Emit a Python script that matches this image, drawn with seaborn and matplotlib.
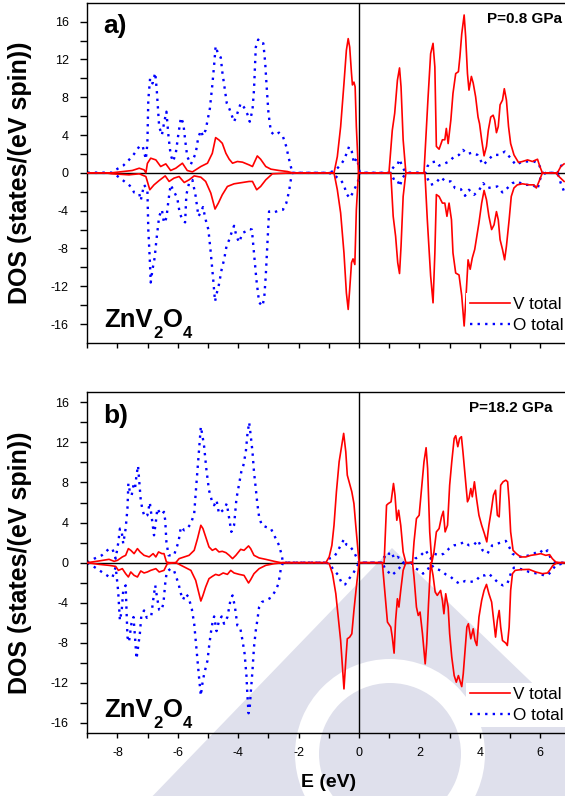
import matplotlib
matplotlib.use("Agg")
import matplotlib.pyplot as plt
from matplotlib.lines import Line2D
from matplotlib.patches import Polygon, Wedge
import pandas as pd
import seaborn as sns

# ---------------------------------------------------------------------------
# Spin-resolved DOS of ZnV2O4, (energy eV, states/(eV spin)) pairs
# ---------------------------------------------------------------------------

# (a) P = 0.8 GPa
a_v_up = [(-9.0, 0), (-8.2, 0), (-7.51, 0.25), (-7.28, 0.49), (-7.12, 0.32), (-7.06, 0.0), (-7.01, 1.0),
          (-6.90, 1.55), (-6.73, 1.37), (-6.57, 0.67), (-6.40, 0.95), (-6.24, 0.25), (-6.07, 0.49), (-5.85, 1.02),
          (-5.69, 0.25), (-5.52, 0.1), (-5.41, 0.32), (-5.24, 0.67), (-5.02, 1.02), (-4.86, 2.07), (-4.75, 3.73),
          (-4.64, 3.48), (-4.53, 3.13), (-4.41, 2.07), (-4.30, 1.44), (-4.19, 1.02), (-4.03, 1.2), (-3.86, 1.13),
          (-3.64, 0.84), (-3.53, 0.67), (-3.37, 1.79), (-3.26, 1.44), (-3.09, 0.67), (-2.92, 0.39), (-2.65, 0.25),
          (-2.37, 0.14), (-2.21, 0), (-1.0, 0), (-0.83, 0), (-0.72, 1.72), (-0.61, 4.89), (-0.50, 9.46),
          (-0.42, 12.97), (-0.36, 14.2), (-0.31, 13.3), (-0.25, 10.5), (-0.22, 9.3), (-0.17, 9.6), (-0.13, 9.1),
          (-0.09, 4.9), (-0.02, 0), (0.99, 0), (1.10, 4.5), (1.18, 6.3), (1.27, 9.8), (1.34, 11.1), (1.39, 9.1),
          (1.46, 3.5), (1.55, 0), (2.15, 0), (2.28, 7.7), (2.37, 12.6), (2.45, 13.7), (2.51, 11.2), (2.56, 2.8),
          (2.65, 2.5), (2.76, 3.5), (2.84, 3.5), (2.89, 4.7), (2.95, 3.1), (3.04, 5.6), (3.11, 8.4), (3.20, 10.5),
          (3.29, 10.7), (3.34, 12.3), (3.40, 14.7), (3.48, 16.7), (3.53, 14.4), (3.59, 10.5), (3.64, 8.75),
          (3.72, 10.2), (3.78, 9.5), (3.86, 8.05), (3.94, 5.9), (3.99, 5.2), (4.06, 3.5), (4.14, 1.8), (4.22, 2.8),
          (4.28, 4.5), (4.36, 5.9), (4.44, 6.1), (4.49, 5.6), (4.55, 4.25), (4.61, 4.9), (4.67, 7.2), (4.75, 7.7),
          (4.81, 8.9), (4.88, 7.7), (4.95, 4.9), (5.02, 3.1), (5.13, 1.9), (5.28, 1.1), (5.41, 1.2), (5.58, 1.37),
          (5.74, 1.2), (5.91, 1.44), (5.98, 0.74), (6.07, 0), (6.57, 0), (6.68, 0.67), (6.79, 0.95)]

a_v_down = [(-9.0, 0), (-8.4, 0), (-8.17, -0.1), (-7.62, -0.21), (-7.28, -0.1), (-7.06, -0.39), (-6.93, -1.79),
            (-6.79, -1.27), (-6.62, -0.81), (-6.42, -0.32), (-6.29, -0.91), (-6.13, -0.56), (-5.96, -0.39),
            (-5.79, -1.02), (-5.63, -0.74), (-5.46, -0.32), (-5.24, -0.46), (-5.08, -0.91), (-4.91, -2.14),
            (-4.77, -3.83), (-4.66, -3.2), (-4.53, -2.32), (-4.36, -1.44), (-4.14, -1.16), (-3.86, -1.02),
            (-3.64, -0.91), (-3.53, -0.91), (-3.39, -1.79), (-3.26, -1.44), (-3.09, -0.74), (-2.87, -0.1),
            (-2.21, 0), (-0.99, 0), (-0.83, 0), (-0.72, -1.79), (-0.61, -4.25), (-0.50, -8.47), (-0.42, -12.7),
            (-0.36, -14.45), (-0.31, -12.3), (-0.25, -9.5), (-0.20, -9.1), (-0.14, -9.7), (-0.09, -3.9),
            (-0.02, 0), (1.05, 0), (1.13, -4.6), (1.21, -6.7), (1.28, -9.5), (1.34, -10.65), (1.39, -7.77),
            (1.46, -2.5), (1.55, 0), (2.18, 0), (2.26, -4.96), (2.37, -10.9), (2.45, -13.75), (2.51, -8.5),
            (2.56, -2.3), (2.65, -2.5), (2.76, -3.2), (2.84, -3.2), (2.91, -4.6), (2.98, -3.2), (3.06, -4.96),
            (3.11, -8.47), (3.20, -10.6), (3.31, -10.8), (3.40, -13.0), (3.48, -16.2), (3.53, -13.75),
            (3.61, -9.2), (3.68, -10.2), (3.75, -9.0), (3.83, -8.1), (3.90, -6.7), (3.97, -5.3), (4.06, -3.2),
            (4.14, -1.86), (4.22, -2.85), (4.30, -4.6), (4.39, -6.0), (4.47, -5.5), (4.55, -4.1), (4.61, -4.96),
            (4.67, -7.07), (4.75, -8.1), (4.82, -9.2), (4.88, -7.77), (4.97, -4.96), (5.04, -2.5), (5.13, -1.6),
            (5.24, -1.27), (5.41, -1.16), (5.63, -1.27), (5.79, -1.27), (5.87, -1.6), (5.96, -0.91), (6.07, 0),
            (6.51, 0), (6.62, -0.39), (6.79, -0.91)]

a_o_up = [(-9.0, 0), (-8.19, 0), (-8.06, 0.32), (-7.81, 0.77), (-7.62, 1.37), (-7.45, 2.0), (-7.28, 2.78),
          (-7.17, 2.88), (-7.06, 1.44), (-7.01, 3.13), (-6.98, 7.7), (-6.92, 10.0), (-6.84, 9.46), (-6.75, 10.58),
          (-6.70, 8.76), (-6.62, 4.89), (-6.53, 4.0), (-6.46, 5.24), (-6.38, 6.47), (-6.31, 3.83), (-6.24, 1.9),
          (-6.16, 1.2), (-6.07, 2.07), (-5.98, 4.18), (-5.90, 5.84), (-5.82, 5.24), (-5.76, 3.48), (-5.69, 1.72),
          (-5.57, 0.91), (-5.41, 2.07), (-5.33, 3.66), (-5.24, 4.47), (-5.17, 3.9), (-5.08, 4.54), (-4.94, 6.82),
          (-4.86, 9.28), (-4.80, 11.4), (-4.75, 13.4), (-4.67, 12.6), (-4.58, 12.2), (-4.53, 10.7), (-4.45, 8.93),
          (-4.38, 7.35), (-4.30, 6.82), (-4.22, 6.12), (-4.14, 5.41), (-4.05, 6.12), (-3.92, 7.35), (-3.81, 6.93),
          (-3.70, 6.22), (-3.62, 5.41), (-3.53, 6.65), (-3.48, 8.76), (-3.42, 13.3), (-3.34, 14.1), (-3.26, 13.7),
          (-3.17, 13.7), (-3.11, 11.7), (-3.06, 9.1), (-3.00, 6.3), (-2.92, 4.36), (-2.81, 4.0), (-2.65, 4.25),
          (-2.52, 3.83), (-2.41, 2.78), (-2.34, 1.72), (-2.26, 0.67), (-2.21, 0), (-0.99, 0), (-0.77, 0.32),
          (-0.61, 0.84), (-0.50, 1.37), (-0.42, 2.0), (-0.33, 2.78), (-0.24, 2.25), (-0.17, 1.02), (-0.08, 1.55),
          (-0.02, 0.84), (0.02, 0), (0.99, 0), (1.16, 0.67), (1.27, 0.84), (1.34, 1.44), (1.41, 0.84), (1.49, 0.32),
          (1.57, 0), (2.19, 0), (2.26, 0.67), (2.37, 1.09), (2.54, 1.2), (2.65, 0.77), (2.81, 0.95), (2.98, 1.2),
          (3.15, 1.72), (3.31, 1.9), (3.44, 2.43), (3.59, 2.0), (3.75, 2.14), (3.92, 1.9), (4.11, 0.84),
          (4.28, 1.37), (4.44, 1.9), (4.64, 1.9), (4.83, 2.25), (5.02, 1.55), (5.19, 0.84), (5.41, 1.2),
          (5.63, 1.2), (5.79, 1.2), (5.94, 1.02), (6.07, 0), (6.57, 0), (6.68, 0.67), (6.79, 1.2)]

a_o_down = [(-9.0, 0), (-8.19, 0), (-8.06, -0.21), (-7.84, -0.74), (-7.56, -1.44), (-7.45, -2.07), (-7.28, -2.2),
            (-7.23, -2.92), (-7.12, -1.27), (-7.01, -1.79), (-6.98, -6.0), (-6.93, -9.18), (-6.90, -11.6),
            (-6.84, -10.2), (-6.77, -9.0), (-6.71, -7.07), (-6.62, -4.6), (-6.53, -3.9), (-6.46, -5.3),
            (-6.38, -4.78), (-6.31, -2.85), (-6.24, -1.27), (-6.13, -1.97), (-6.02, -2.67), (-5.94, -4.25),
            (-5.85, -4.96), (-5.76, -5.24), (-5.72, -2.32), (-5.63, -1.09), (-5.52, -0.74), (-5.41, -2.5),
            (-5.32, -4.6), (-5.24, -4.18), (-5.17, -3.62), (-5.08, -4.96), (-4.99, -6.0), (-4.91, -8.47),
            (-4.83, -11.3), (-4.77, -13.6), (-4.71, -12.7), (-4.64, -11.8), (-4.55, -10.2), (-4.47, -9.18),
            (-4.39, -7.77), (-4.30, -7.07), (-4.22, -6.3), (-4.14, -5.6), (-4.06, -6.72), (-3.97, -7.35),
            (-3.86, -6.36), (-3.75, -6.19), (-3.64, -5.94), (-3.55, -6.0), (-3.48, -8.47), (-3.40, -11.3),
            (-3.31, -13.7), (-3.20, -14.1), (-3.14, -13.2), (-3.09, -10.9), (-3.04, -7.77), (-2.98, -4.08),
            (-2.81, -4.18), (-2.65, -3.97), (-2.52, -3.9), (-2.41, -3.2), (-2.32, -1.97), (-2.26, -0.74),
            (-2.21, 0), (-0.99, 0), (-0.77, -0.39), (-0.61, -0.74), (-0.50, -1.27), (-0.42, -2.2), (-0.31, -2.67),
            (-0.20, -2.07), (-0.11, -1.44), (-0.02, -0.74), (0.02, 0), (1.05, 0), (1.16, -0.74), (1.27, -0.74),
            (1.35, -1.44), (1.43, -0.56), (1.57, 0), (2.19, 0), (2.26, -0.56), (2.37, -1.27), (2.54, -1.09),
            (2.70, -0.46), (2.87, -0.91), (3.04, -0.91), (3.18, -1.62), (3.37, -1.72), (3.51, -2.43),
            (3.64, -1.79), (3.81, -2.32), (3.97, -1.86), (4.11, -1.09), (4.25, -1.62), (4.41, -1.51),
            (4.58, -1.44), (4.75, -2.07), (4.91, -1.62), (5.08, -1.09), (5.24, -0.91), (5.46, -1.27),
            (5.63, -1.27), (5.76, -1.27), (5.91, -1.72), (6.02, -0.39), (6.18, 0), (6.57, 0), (6.68, -1.09),
            (6.79, -1.97)]

# (b) P = 18.2 GPa
b_v_up = [(-9.0, 0), (-8.61, 0.17), (-8.28, 0.33), (-8.11, 0.13), (-8.00, 0.23), (-7.84, 0.57), (-7.73, 0.73),
          (-7.64, 1.4), (-7.56, 1.23), (-7.45, 0.9), (-7.34, 1.4), (-7.25, 1.07), (-7.12, 0.73), (-6.95, 0.57),
          (-6.82, 0.9), (-6.73, 0.57), (-6.64, 1.07), (-6.53, 0.9), (-6.46, 0.9), (-6.38, 0.07), (-6.29, 0),
          (-6.07, 0), (-5.96, 0.4), (-5.79, 0.57), (-5.63, 0.73), (-5.46, 1.23), (-5.35, 2.4), (-5.24, 3.73),
          (-5.17, 3.4), (-5.08, 2.57), (-4.97, 1.57), (-4.86, 1.23), (-4.75, 1.4), (-4.64, 1.07), (-4.53, 1.13),
          (-4.41, 1.0), (-4.30, 0.73), (-4.19, 0.4), (-4.08, 0.73), (-3.92, 1.33), (-3.81, 1.23), (-3.66, 1.67),
          (-3.59, 1.4), (-3.48, 0.73), (-3.31, 0.47), (-3.09, 0.33), (-2.81, 0.13), (-2.59, 0), (-1.1, 0),
          (-0.99, 0.57), (-0.90, 1.73), (-0.83, 3.73), (-0.75, 7.07), (-0.66, 10.07), (-0.57, 11.73),
          (-0.51, 12.9), (-0.44, 11.07), (-0.39, 8.73), (-0.33, 8.07), (-0.24, 7.07), (-0.17, 5.9), (-0.11, 3.73),
          (-0.05, 1.73), (0.0, 0), (0.83, 0), (0.91, 5.73), (0.97, 5.9), (1.06, 6.07), (1.14, 7.9), (1.19, 6.73),
          (1.25, 4.23), (1.31, 5.23), (1.38, 3.73), (1.46, 1.07), (1.55, 0), (1.77, 0), (1.82, 2.07), (1.90, 4.4),
          (1.99, 4.73), (2.08, 7.73), (2.15, 10.07), (2.22, 11.47), (2.27, 9.4), (2.34, 3.07), (2.41, 0),
          (2.48, 1.07), (2.56, 3.07), (2.65, 3.4), (2.73, 4.57), (2.79, 5.13), (2.85, 3.07), (2.93, 3.73),
          (3.00, 7.73), (3.07, 10.07), (3.15, 12.4), (3.20, 12.67), (3.27, 11.57), (3.33, 12.4), (3.39, 12.57),
          (3.44, 11.07), (3.53, 8.07), (3.59, 6.07), (3.64, 6.4), (3.70, 7.4), (3.75, 6.57), (3.82, 8.07),
          (3.89, 6.4), (3.97, 4.73), (4.06, 3.73), (4.15, 2.9), (4.23, 2.07), (4.30, 3.73), (4.38, 5.23),
          (4.45, 6.73), (4.52, 7.23), (4.58, 4.73), (4.64, 4.57), (4.69, 7.73), (4.77, 8.07), (4.86, 8.23),
          (4.92, 8.07), (4.97, 6.07), (5.02, 3.07), (5.10, 1.23), (5.21, 0.9), (5.35, 0.57), (5.52, 0.57),
          (5.69, 0.73), (5.85, 0.8), (6.02, 0.9), (6.18, 0.73), (6.31, 0.8), (6.40, 0.4), (6.51, 0.07),
          (6.62, 0), (6.8, 0)]

b_v_down = [(-9.0, 0), (-8.61, -0.17), (-8.28, -0.27), (-8.06, -0.37), (-7.97, -0.77), (-7.84, -0.6),
            (-7.73, -1.1), (-7.64, -1.43), (-7.56, -0.93), (-7.45, -1.27), (-7.34, -1.43), (-7.23, -0.83),
            (-7.12, -1.03), (-7.01, -0.93), (-6.90, -0.77), (-6.73, -0.6), (-6.62, -0.93), (-6.46, -0.77),
            (-6.35, -0.1), (-6.07, 0), (-5.96, -0.17), (-5.79, -0.43), (-5.57, -0.77), (-5.41, -1.77),
            (-5.30, -3.1), (-5.24, -3.83), (-5.17, -3.27), (-5.08, -2.43), (-4.97, -1.6), (-4.86, -1.37),
            (-4.75, -1.17), (-4.64, -1.27), (-4.50, -1.03), (-4.36, -1.17), (-4.25, -0.77), (-4.14, -1.03),
            (-3.97, -1.17), (-3.81, -1.27), (-3.66, -2.03), (-3.59, -1.7), (-3.48, -1.1), (-3.31, -0.6),
            (-3.09, -0.27), (-2.81, -0.1), (-2.52, 0), (-1.1, 0), (-0.99, -0.1), (-0.88, -1.1), (-0.77, -3.1),
            (-0.68, -5.77), (-0.61, -7.77), (-0.55, -10.43), (-0.50, -12.6), (-0.44, -9.77), (-0.39, -7.6),
            (-0.31, -7.43), (-0.24, -7.1), (-0.17, -4.77), (-0.09, -2.43), (0.0, 0), (0.77, 0), (0.86, -3.1),
            (0.94, -5.93), (1.05, -6.43), (1.10, -7.43), (1.16, -9.03), (1.21, -5.77), (1.27, -3.6), (1.32, -4.43),
            (1.38, -2.77), (1.46, -0.77), (1.55, 0), (1.77, 0), (1.82, -1.43), (1.90, -4.43), (1.96, -5.27),
            (2.02, -4.93), (2.10, -7.1), (2.19, -10.1), (2.24, -8.1), (2.30, -4.1), (2.37, 0), (2.45, -1.27),
            (2.52, -2.93), (2.59, -3.27), (2.70, -2.77), (2.76, -3.77), (2.81, -5.1), (2.87, -3.1), (2.95, -4.43),
            (3.00, -7.1), (3.07, -9.43), (3.15, -11.27), (3.22, -11.93), (3.29, -11.27), (3.34, -11.77),
            (3.40, -12.37), (3.45, -11.1), (3.51, -8.77), (3.57, -6.43), (3.62, -6.1), (3.70, -7.6), (3.78, -6.6),
            (3.84, -7.77), (3.90, -8.27), (3.97, -5.43), (4.06, -3.77), (4.14, -2.77), (4.22, -2.17), (4.30, -3.1),
            (4.39, -3.93), (4.47, -6.1), (4.52, -7.43), (4.58, -5.77), (4.64, -4.77), (4.69, -6.43), (4.75, -7.77),
            (4.86, -8.03), (4.91, -8.27), (4.97, -6.43), (5.02, -2.77), (5.08, -1.1), (5.17, -0.77), (5.35, -0.7),
            (5.63, -0.67), (5.85, -0.93), (6.07, -1.1), (6.24, -1.03), (6.31, -0.77), (6.42, -0.27), (6.57, 0),
            (6.8, 0)]

b_o_up = [(-9.0, 0), (-8.77, 0.4), (-8.52, 0.73), (-8.30, 1.33), (-8.17, 1.4), (-8.06, 0.4), (-7.97, 2.07),
          (-7.92, 3.4), (-7.86, 3.07), (-7.81, 1.9), (-7.73, 3.4), (-7.67, 5.4), (-7.64, 7.9), (-7.59, 7.07),
          (-7.53, 6.73), (-7.47, 7.73), (-7.42, 7.4), (-7.37, 8.73), (-7.32, 9.67), (-7.27, 7.73), (-7.23, 6.23),
          (-7.17, 5.23), (-7.10, 4.57), (-7.01, 4.73), (-6.93, 6.0), (-6.87, 4.57), (-6.79, 2.73), (-6.73, 4.07),
          (-6.68, 5.4), (-6.62, 5.07), (-6.57, 4.8), (-6.51, 4.9), (-6.46, 5.07), (-6.42, 4.23), (-6.38, 2.07),
          (-6.31, 0.73), (-6.13, 0.73), (-5.98, 2.07), (-5.90, 3.57), (-5.79, 3.23), (-5.69, 3.4), (-5.57, 3.9),
          (-5.46, 4.9), (-5.39, 7.73), (-5.32, 10.4), (-5.24, 13.57), (-5.19, 12.73), (-5.13, 11.57), (-5.06, 9.4),
          (-4.97, 7.23), (-4.88, 6.23), (-4.80, 5.73), (-4.72, 6.23), (-4.64, 4.9), (-4.55, 5.13), (-4.47, 5.33),
          (-4.38, 5.9), (-4.30, 4.4), (-4.23, 3.07), (-4.14, 3.73), (-4.06, 6.4), (-3.97, 7.9), (-3.90, 9.07),
          (-3.83, 9.73), (-3.75, 11.07), (-3.70, 12.73), (-3.64, 14.0), (-3.59, 12.73), (-3.53, 11.07),
          (-3.48, 9.07), (-3.42, 7.4), (-3.37, 5.9), (-3.31, 4.57), (-3.22, 3.73), (-3.09, 3.57), (-2.92, 3.4),
          (-2.76, 2.4), (-2.65, 1.73), (-2.56, 0.73), (-2.52, 0), (-1.1, 0), (-0.99, 0.4), (-0.83, 0.57),
          (-0.72, 1.07), (-0.61, 1.73), (-0.50, 2.33), (-0.42, 1.8), (-0.33, 1.73), (-0.20, 1.23), (-0.09, 0.57),
          (0.0, 0), (0.77, 0), (0.83, 0.57), (0.94, 0.47), (0.99, 0.9), (1.08, 1.07), (1.16, 0.4), (1.27, 0.57),
          (1.38, 0.4), (1.46, 0), (1.77, 0), (1.85, 0.4), (1.99, 0.57), (2.10, 0.9), (2.21, 1.23), (2.30, 0.73),
          (2.37, 0.4), (2.48, 0.9), (2.65, 0.73), (2.81, 0.9), (2.98, 1.4), (3.15, 1.73), (3.31, 1.8), (3.48, 2.07),
          (3.64, 1.73), (3.81, 1.8), (3.94, 2.23), (4.09, 1.23), (4.25, 0.9), (4.41, 1.73), (4.58, 1.9),
          (4.75, 2.07), (4.86, 2.17), (4.97, 1.57), (5.08, 0.9), (5.24, 0.63), (5.41, 0.57), (5.63, 0.73),
          (5.79, 0.9), (5.99, 1.23), (6.13, 0.9), (6.24, 1.23), (6.35, 0.4), (6.51, 0), (6.8, 0)]

b_o_down = [(-9.0, 0), (-8.77, -0.43), (-8.52, -0.93), (-8.30, -1.37), (-8.17, -1.5), (-8.06, -0.43),
            (-7.98, -2.77), (-7.92, -5.77), (-7.86, -4.77), (-7.81, -2.77), (-7.73, -2.27), (-7.67, -7.43),
            (-7.62, -7.93), (-7.54, -6.1), (-7.47, -5.43), (-7.42, -7.43), (-7.37, -9.6), (-7.32, -8.43),
            (-7.26, -7.1), (-7.21, -5.27), (-7.12, -4.77), (-7.03, -5.5), (-6.95, -5.27), (-6.88, -5.27),
            (-6.82, -3.77), (-6.75, -2.27), (-6.70, -3.27), (-6.62, -4.7), (-6.55, -4.77), (-6.48, -4.1),
            (-6.42, -2.1), (-6.37, -0.93), (-6.24, -0.6), (-6.13, -0.77), (-5.98, -2.1), (-5.90, -3.1),
            (-5.83, -3.7), (-5.74, -3.1), (-5.65, -3.43), (-5.54, -4.6), (-5.46, -6.1), (-5.41, -7.77),
            (-5.35, -9.77), (-5.30, -11.43), (-5.24, -13.27), (-5.19, -12.1), (-5.13, -11.1), (-5.02, -9.77),
            (-4.97, -8.43), (-4.91, -7.03), (-4.86, -6.1), (-4.80, -5.37), (-4.72, -6.83), (-4.64, -5.83),
            (-4.55, -5.37), (-4.47, -6.1), (-4.36, -5.43), (-4.30, -4.43), (-4.25, -3.6), (-4.19, -3.27),
            (-4.11, -4.43), (-4.03, -6.27), (-3.94, -6.43), (-3.86, -7.77), (-3.79, -9.1), (-3.73, -11.27),
            (-3.70, -13.1), (-3.66, -15.03), (-3.62, -14.43), (-3.59, -13.1), (-3.53, -10.77), (-3.48, -8.43),
            (-3.42, -6.77), (-3.37, -5.77), (-3.31, -4.43), (-3.22, -3.93), (-3.09, -3.77), (-2.92, -3.5),
            (-2.76, -2.77), (-2.67, -2.1), (-2.59, -0.6), (-2.52, 0), (-1.1, 0), (-0.99, -0.1), (-0.83, -0.77),
            (-0.68, -1.27), (-0.57, -2.1), (-0.46, -2.17), (-0.33, -1.6), (-0.20, -1.1), (-0.09, -0.5), (0.0, 0),
            (0.77, 0), (0.86, -0.6), (0.97, -0.93), (1.08, -1.27), (1.21, -0.93), (1.32, -0.6), (1.43, -0.1),
            (1.77, -0.1), (1.88, -0.6), (2.01, -0.77), (2.12, -1.1), (2.26, -0.77), (2.37, -0.17), (2.52, -0.6),
            (2.70, -0.77), (2.87, -1.17), (3.04, -1.43), (3.18, -1.83), (3.33, -2.1), (3.51, -1.83),
            (3.665, -1.93), (3.86, -1.83), (4.03, -1.27), (4.17, -1.27), (4.30, -1.1), (4.47, -1.6), (4.64, -2.1),
            (4.77, -2.27), (4.91, -2.1), (5.06, -0.77), (5.13, -0.5), (5.28, -0.6), (5.46, -0.7), (5.63, -0.93),
            (5.79, -1.03), (5.96, -1.1), (6.13, -1.27), (6.24, -1.27), (6.35, -0.93), (6.51, -0.27), (6.73, -0.1)]

panel_tags = ["a)", "b)"]
pressures = ["P=0.8 GPa", "P=18.2 GPa"]
series_names = ["V total", "O total"]
formula_parts = [("ZnV", False), ("2", True), ("O", False), ("4", True)]
x_ticks = [-8, -6, -4, -2, 0, 2, 4, 6]
y_ticks = [-16, -12, -8, -4, 0, 4, 8, 12, 16]


def spin_frame(up, down):
    rows = [(e, d, "up") for e, d in up] + [(e, d, "down") for e, d in down]
    return pd.DataFrame(rows, columns=["E", "DOS", "spin"])


def draw_formula(ax, x, y):
    """Chemical formula with lowered subscripts, placed piece by piece."""
    prev = None
    for txt, sub in formula_parts:
        size = 12 if sub else 18.5
        dy = -8 if sub else 0
        if prev is None:
            prev = ax.text(x, y, txt, transform=ax.transAxes, fontsize=size, fontweight="bold",
                           ha="left", va="baseline")
        else:
            prev = ax.annotate(txt, xy=(1, y), xycoords=(prev, ax.transAxes), xytext=(0.3, dy),
                               textcoords="offset points", fontsize=size, fontweight="bold",
                               ha="left", va="baseline")


plt.rcParams["font.family"] = ["Liberation Sans", "DejaVu Sans"]
plt.rcParams["axes.unicode_minus"] = False

W, H = 565, 796
fig = plt.figure(figsize=(W / 100, H / 100), dpi=100)

# faint background emblem
emblem = "#dfe0ec"
fig.patches.append(Polygon([(1.43, -0.1), (3.92, 2.48), (6.60, -0.1)], closed=True,
                           transform=fig.dpi_scale_trans, facecolor=emblem, edgecolor="none", zorder=-5))
fig.patches.append(Wedge((3.90, 0.42), 0.95, 0, 360, width=0.24, transform=fig.dpi_scale_trans,
                         facecolor="white", edgecolor="none", zorder=-4))

left = 87.3 / W
width = (W - 87.3) / W
boxes = [(2.7, 343.0), (392.3, 733.0)]   # top / bottom pixel rows of each panel
limits = [18, 17]

panels = [(a_v_up, a_v_down, a_o_up, a_o_down), (b_v_up, b_v_down, b_o_up, b_o_down)]
dot_style = (0, (1, 2.2))

for i, (top_px, bot_px) in enumerate(boxes):
    ax = fig.add_axes([left, 1 - bot_px / H, width, (bot_px - top_px) / H])
    ax.set_facecolor("none")
    v_up, v_dn, o_up, o_dn = panels[i]

    ax.axhline(0, color="black", lw=1.0, zorder=1)
    ax.axvline(0, color="black", lw=1.0, zorder=1)

    sns.lineplot(data=spin_frame(o_up, o_dn), x="E", y="DOS", units="spin", estimator=None, sort=False,
                 color="#0000ff", lw=1.7, linestyle=dot_style, ax=ax, legend=False, zorder=2)
    sns.lineplot(data=spin_frame(v_up, v_dn), x="E", y="DOS", units="spin", estimator=None, sort=False,
                 color="#ff0000", lw=1.2, ax=ax, legend=False, zorder=3)

    ax.set_xlim(-9, 6.82)
    ax.set_ylim(-limits[i], limits[i])
    ax.set_xlabel("")
    ax.set_ylabel("")
    ax.set_xticks(x_ticks)
    ax.set_xticks(range(-9, 7), minor=True)
    ax.set_yticks(y_ticks)
    ax.set_yticks(range(-16, 17, 2), minor=True)
    ax.tick_params(axis="y", which="both", direction="out", length=5, width=1.0, labelsize=9, pad=8.3)
    ax.tick_params(axis="x", which="both", direction="out", length=3.6, width=1.0, labelsize=9, pad=6.3,
                   labelbottom=(i == 1))
    for side in ("left", "bottom", "top"):
        ax.spines[side].set_linewidth(1.0)
        ax.spines[side].set_color("black")
    ax.spines["right"].set_visible(False)

    ax.text(0.0335, 0.911, panel_tags[i], transform=ax.transAxes, fontsize=19, fontweight="bold",
            ha="left", va="baseline")
    ax.text(0.993 if i == 0 else 0.974, 0.941, pressures[i], transform=ax.transAxes, fontsize=11,
            fontweight="bold", ha="right", va="baseline")
    draw_formula(ax, 0.035, 0.048)

    handles = [Line2D([], [], color="#ff0000", lw=1.2),
               Line2D([], [], color="#0000ff", lw=1.7, linestyle=dot_style)]
    leg = ax.legend(handles, series_names, loc="lower right", bbox_to_anchor=(1.006, 0.018), fontsize=12.3,
                    handlelength=2.3, handletextpad=0.2, borderpad=0.25, labelspacing=0.32,
                    frameon=True, fancybox=False, framealpha=1, borderaxespad=0)
    leg.get_frame().set_facecolor("white")
    leg.get_frame().set_edgecolor("none")

    fig.text(20 / W, 1 - (top_px + bot_px) / 2 / H, "DOS (states/(eV spin))", rotation=90,
             fontsize=18, fontweight="bold", ha="center", va="center")

fig.text(329 / W, 1 - 787 / H, "E (eV)", fontsize=14, fontweight="bold", ha="center", va="baseline")

fig.savefig("out.png", dpi=100)
